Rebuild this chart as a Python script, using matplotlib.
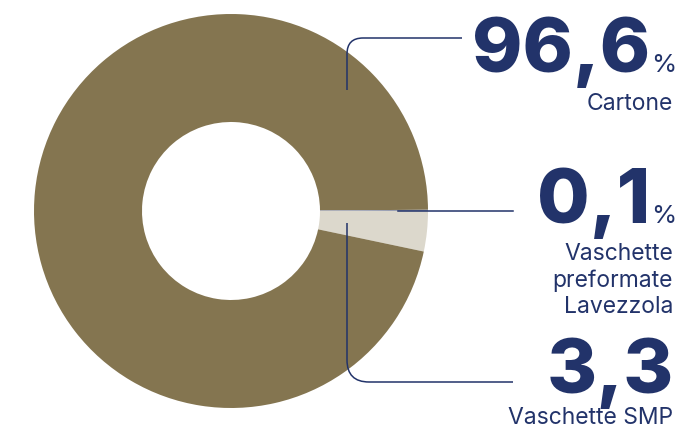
import numpy as np
import matplotlib.pyplot as plt
from matplotlib.path import Path
from matplotlib.patches import PathPatch

# data
labels = ['Vaschette SMP', 'Cartone', 'Vaschette\npreformate\nLavezzola']
values = [3.3, 96.6, 0.1]
value_text = ['3,3', '96,6', '0,1']
colors = ['#dcd8cc', '#847550', '#9aa0b4']

W, H = 677, 429
navy = '#22336a'
font = 'Inter'

fig = plt.figure(figsize=(W / 100, H / 100), dpi=100)
ax = fig.add_axes([0, 0, 1, 1])


def py(y):
    # pixel row (from top) -> data y
    return H - y


cx, cy, r_out, r_in = 231, py(211), 197, 89
ax.pie(values, colors=colors, startangle=0, counterclock=False,
       center=(cx, cy), radius=r_out,
       wedgeprops=dict(width=r_out - r_in, linewidth=0))
ax.set_xlim(0, W)
ax.set_ylim(0, H)
ax.set_aspect('equal')
ax.axis('off')


def leader(points, rad):
    # polyline with a rounded corner at the middle point
    (x0, y0), (x1, y1), (x2, y2) = points
    d1 = np.hypot(x1 - x0, y1 - y0)
    d2 = np.hypot(x2 - x1, y2 - y1)
    a = (x1 - (x1 - x0) / d1 * rad, y1 - (y1 - y0) / d1 * rad)
    b = (x1 + (x2 - x1) / d2 * rad, y1 + (y2 - y1) / d2 * rad)
    verts = [(x0, y0), a, (x1, y1), b, (x2, y2)]
    codes = [Path.MOVETO, Path.LINETO, Path.CURVE3, Path.CURVE3, Path.LINETO]
    ax.add_patch(PathPatch(Path(verts, codes), fill=False, edgecolor=navy, lw=1.1))


leader([(347, py(90)), (347, py(38)), (462, py(38))], 16)
ax.plot([398, 513], [py(211), py(211)], color=navy, lw=1.1)
leader([(347, py(223)), (347, py(382)), (513, py(382))], 22)

# value labels
num_kw = dict(color=navy, fontsize=55, fontweight='heavy', family=font,
              ha='right', va='baseline')
pct_kw = dict(color=navy, fontsize=18.5, family=font,
              ha='left', va='baseline')
lab_kw = dict(color=navy, fontsize=16.5, family=font, ha='right', va='baseline')


def label(text, y0, step=26.5):
    for i, line in enumerate(text.split('\n')):
        ax.text(673, py(y0 + i * step), line, **lab_kw)


# Cartone
ax.text(650, py(72), value_text[1], **num_kw)
ax.text(651, py(72), '%', **pct_kw)
label(labels[1], 110)

# Lavezzola
ax.text(650, py(223), value_text[2], **num_kw)
ax.text(651, py(223), '%', **pct_kw)
label(labels[2], 260)

# SMP
ax.text(674, py(393), value_text[0], **num_kw)
label(labels[0], 424)

fig.savefig('out.png', dpi=100)
